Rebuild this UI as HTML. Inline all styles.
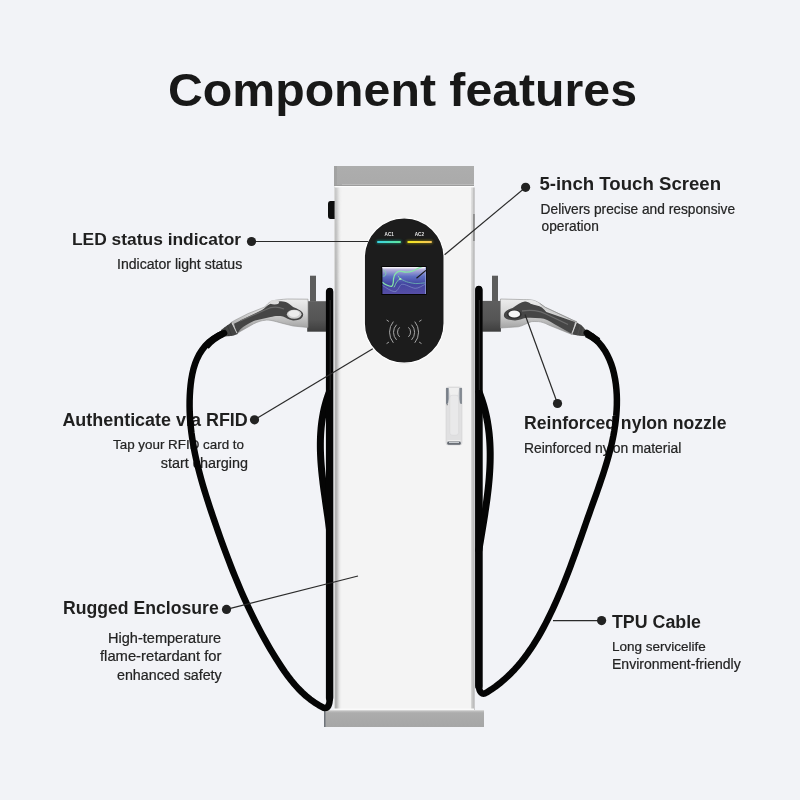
<!DOCTYPE html>
<html><head><meta charset="utf-8"><title>Component features</title>
<style>
html,body{margin:0;padding:0;background:#f2f3f7;}
body{width:800px;height:800px;position:relative;overflow:hidden;font-family:"Liberation Sans", sans-serif;}
svg text{font-family:"Liberation Sans", sans-serif;}
</style></head><body>
<svg width="800" height="800" viewBox="0 0 800 800" style="position:absolute;left:0;top:0;will-change:transform" font-family="'Liberation Sans', sans-serif">
<text x="168.0" y="105.5" font-size="46.5" font-weight="bold" text-anchor="start" fill="#181818" textLength="469.03" lengthAdjust="spacingAndGlyphs">Component features</text>
<text x="72.0" y="245.4" font-size="17.4" font-weight="bold" text-anchor="start" fill="#1f1f1f">LED status indicator</text>
<text x="117.0" y="269.4" font-size="14.09" font-weight="normal" text-anchor="start" fill="#242424" stroke="#242424" stroke-width="0.22">Indicator light status</text>
<text x="539.4" y="190" font-size="18.62" font-weight="bold" text-anchor="start" fill="#1f1f1f">5-inch Touch Screen</text>
<text x="540.6" y="213.5" font-size="13.72" font-weight="normal" text-anchor="start" fill="#242424" stroke="#242424" stroke-width="0.22">Delivers precise and responsive</text>
<text x="541.6" y="231.3" font-size="13.72" font-weight="normal" text-anchor="start" fill="#242424" stroke="#242424" stroke-width="0.22">operation</text>
<text x="62.4" y="426" font-size="17.94" font-weight="bold" text-anchor="start" fill="#1f1f1f">Authenticate via RFID</text>
<text x="113.0" y="449.4" font-size="13.4" font-weight="normal" text-anchor="start" fill="#242424" stroke="#242424" stroke-width="0.22">Tap your RFID card to</text>
<text x="160.8" y="467.5" font-size="14.39" font-weight="normal" text-anchor="start" fill="#242424" stroke="#242424" stroke-width="0.22">start charging</text>
<text x="524.0" y="429.4" font-size="17.63" font-weight="bold" text-anchor="start" fill="#1f1f1f">Reinforced nylon nozzle</text>
<text x="524.0" y="453.1" font-size="13.88" font-weight="normal" text-anchor="start" fill="#242424" stroke="#242424" stroke-width="0.22">Reinforced nylon material</text>
<text x="63.0" y="613.5" font-size="17.64" font-weight="bold" text-anchor="start" fill="#1f1f1f">Rugged Enclosure</text>
<text x="108.0" y="642.5" font-size="14.56" font-weight="normal" text-anchor="start" fill="#242424" stroke="#242424" stroke-width="0.22">High-temperature</text>
<text x="100.0" y="661" font-size="14.77" font-weight="normal" text-anchor="start" fill="#242424" stroke="#242424" stroke-width="0.22">flame-retardant for</text>
<text x="117.0" y="679.8" font-size="14.27" font-weight="normal" text-anchor="start" fill="#242424" stroke="#242424" stroke-width="0.22">enhanced safety</text>
<text x="612.0" y="627.5" font-size="17.81" font-weight="bold" text-anchor="start" fill="#1f1f1f">TPU Cable</text>
<text x="612.0" y="651.3" font-size="13.51" font-weight="normal" text-anchor="start" fill="#242424" stroke="#242424" stroke-width="0.22">Long servicelife</text>
<text x="612.0" y="669.4" font-size="14.04" font-weight="normal" text-anchor="start" fill="#242424" stroke="#242424" stroke-width="0.22">Environment-friendly</text>
</svg>

<svg width="800" height="800" viewBox="0 0 800 800" style="position:absolute;left:0;top:0">
<defs>
  <linearGradient id="cap" x1="0" y1="0" x2="0" y2="1">
    <stop offset="0" stop-color="#adadad"/><stop offset="1" stop-color="#aaaaaa"/>
  </linearGradient>
  <linearGradient id="bodyL" x1="0" y1="0" x2="1" y2="0">
    <stop offset="0" stop-color="#c8c8c8"/><stop offset="0.12" stop-color="#9c9c9c"/><stop offset="0.5" stop-color="#cdcdcd"/><stop offset="1" stop-color="#f4f4f4" stop-opacity="0"/>
  </linearGradient>
  <linearGradient id="base" x1="0" y1="0" x2="0" y2="1">
    <stop offset="0" stop-color="#bdbdbd"/><stop offset="0.2" stop-color="#acacac"/><stop offset="1" stop-color="#a6a6a6"/>
  </linearGradient>
  <linearGradient id="led1" x1="0" y1="0" x2="1" y2="0">
    <stop offset="0" stop-color="#38d3e6"/><stop offset="1" stop-color="#5fe79a"/>
  </linearGradient>
  <linearGradient id="led2" x1="0" y1="0" x2="1" y2="0">
    <stop offset="0" stop-color="#f3ea1c"/><stop offset="1" stop-color="#f6c25a"/>
  </linearGradient>
  <linearGradient id="scr" x1="0" y1="0" x2="0" y2="1">
    <stop offset="0" stop-color="#ece8f4"/><stop offset="0.1" stop-color="#b4b0da"/><stop offset="0.35" stop-color="#5f70c2"/><stop offset="0.62" stop-color="#4346a0"/><stop offset="1" stop-color="#564ea6"/>
  </linearGradient>
  <linearGradient id="silverL" x1="0" y1="0" x2="0" y2="1">
    <stop offset="0" stop-color="#ededed"/><stop offset="0.4" stop-color="#d6d6d6"/><stop offset="0.8" stop-color="#a6a6a6"/><stop offset="1" stop-color="#858585"/>
  </linearGradient>
  <linearGradient id="handle" x1="0" y1="0" x2="1" y2="0">
    <stop offset="0" stop-color="#a9adb3"/><stop offset="0.2" stop-color="#e2e2e2"/><stop offset="0.8" stop-color="#e6e6e6"/><stop offset="1" stop-color="#b8bcc2"/>
  </linearGradient>
  <linearGradient id="fadeG" gradientUnits="userSpaceOnUse" x1="0" y1="186" x2="0" y2="320">
    <stop offset="0" stop-color="#999"/><stop offset="1" stop-color="#fff"/>
  </linearGradient>
  <mask id="fadeTopR" maskUnits="userSpaceOnUse" x="460" y="180" width="30" height="540"><rect x="460" y="180" width="30" height="540" fill="url(#fadeG)"/></mask>
  <mask id="fadeTop" maskUnits="userSpaceOnUse" x="300" y="180" width="60" height="540"><rect x="300" y="180" width="60" height="540" fill="url(#fadeG)"/></mask>
  <clipPath id="scrClip"><rect x="382.4" y="267" width="43.5" height="27"/></clipPath>
  <linearGradient id="holster" x1="0" y1="0" x2="0" y2="1">
    <stop offset="0" stop-color="#5e5e5e"/><stop offset="0.6" stop-color="#555"/><stop offset="1" stop-color="#3e3e3e"/>
  </linearGradient>
  <linearGradient id="hsideL" x1="0" y1="0" x2="1" y2="0"><stop offset="0" stop-color="#4c5560"/><stop offset="1" stop-color="#b8bdc3"/></linearGradient>
  <linearGradient id="hsideR" x1="1" y1="0" x2="0" y2="0"><stop offset="0" stop-color="#5a636e"/><stop offset="1" stop-color="#c0c4c9"/></linearGradient>
  <filter id="glow" x="-50%" y="-200%" width="200%" height="500%"><feGaussianBlur stdDeviation="0.9"/></filter>
</defs>

<!-- pillar -->
<rect x="334" y="166" width="140" height="20" fill="url(#cap)"/>
<rect x="334" y="166" width="3" height="20" fill="#a2a2a2"/>
<rect x="342" y="184" width="132" height="1" fill="#bababa"/>
<rect x="334" y="185" width="140" height="1" fill="#9c9c9c"/>
<rect x="334" y="186" width="140" height="1.5" fill="#fdfdfd"/>
<rect x="334" y="187.5" width="140" height="522.5" fill="#f4f4f4"/>
<rect x="334" y="187.5" width="8" height="522.5" fill="url(#bodyL)" mask="url(#fadeTop)"/>
<rect x="334" y="186.5" width="1.2" height="523.5" fill="#dadada"/>
<rect x="471.3" y="187.5" width="2.3" height="522.5" fill="#c6c6c6" mask="url(#fadeTopR)"/>
<rect x="473.5" y="187.5" width="1" height="522.5" fill="#a2a2a2"/>
<rect x="473.3" y="214" width="1.3" height="27" fill="#7a7a7a"/>
<path d="M334.6,201 L330.5,201 Q328,201 328,204 L328,216 Q328,219 330.5,219 L334.6,219 Z" fill="#0e0e0e"/>
<rect x="324" y="710" width="160" height="17" fill="url(#base)"/>
<rect x="324" y="710" width="1.5" height="17" fill="#6e737a"/>
<rect x="325" y="710" width="159" height="1.2" fill="#d4d4d4"/>
<rect x="334" y="708.5" width="140" height="1.5" fill="#fafafa"/>

<!-- door handle -->
<rect x="446" y="387" width="16" height="58" rx="2.2" fill="#e0e0e1" stroke="#cdcdcf" stroke-width="0.5"/>
<path d="M446.3,388 L448.9,388 L449.3,398 L448,403.5 L446.3,404 Z" fill="url(#hsideL)"/>
<path d="M461.7,388 L459.1,388 L458.7,398 L460,403.5 L461.7,404 Z" fill="url(#hsideR)"/>
<path d="M449,388 L459,388 L457.5,395.5 L450.5,395.5 Z" fill="#efefef"/>
<rect x="449.8" y="395.2" width="8.8" height="40" rx="2.6" fill="#e9e9ea" stroke="#d2d2d4" stroke-width="0.45"/>
<rect x="446.7" y="404.2" width="1" height="1" fill="#555"/>
<rect x="447.6" y="440.3" width="12.8" height="1" fill="#f4f4f4"/>
<rect x="447.2" y="441.6" width="13.6" height="3.2" rx="1.4" fill="#60666e"/>
<rect x="449" y="441.9" width="10" height="1.2" fill="#c8ccd0"/>

<!-- panel -->
<rect x="364.3" y="217.8" width="79.8" height="145.4" rx="39.9" fill="#1c1c1c" stroke="#ffffff" stroke-width="1.2"/>
<text x="389.2" y="236.4" font-size="4.6" font-weight="bold" fill="#e8e8e8" text-anchor="middle">AC1</text>
<text x="419.4" y="236.4" font-size="4.6" font-weight="bold" fill="#e8e8e8" text-anchor="middle">AC2</text>
<rect x="376" y="240" width="26" height="4" rx="2" fill="#1f6e5e" filter="url(#glow)" opacity="0.8"/>
<rect x="406" y="240" width="27" height="4" rx="2" fill="#6e6a18" filter="url(#glow)" opacity="0.8"/>
<rect x="377" y="241" width="24" height="2.1" rx="1.05" fill="url(#led1)"/>
<rect x="407.3" y="241" width="24.7" height="2.1" rx="1.05" fill="url(#led2)"/>
<rect x="381.4" y="266" width="45.2" height="29" fill="#050505"/>
<rect x="382.4" y="267" width="43.5" height="27" fill="url(#scr)"/>
<rect x="382.4" y="267" width="43.5" height="1.2" fill="#f4f2f8"/>
<rect x="425" y="267" width="0.9" height="27" fill="#9aa6e0" opacity="0.8"/>
<g clip-path="url(#scrClip)" fill="none" stroke-linecap="round">
<path d="M382.7,282.3 C384,284 389,286.5 391.5,286.3 C393.5,285.5 393.4,281 393.5,278.9 C394,276 394.5,274.5 395.6,273.5 C397,272 398.5,271.2 399.6,271.1 C402,271 404,272.3 406.4,272.1 C409,272 411,271.5 413.1,270.8 C415.5,269.8 417,268.7 418.5,268.1 L422,266.7" stroke="#86e6a6" stroke-width="1.25"/>
<path d="M398.3,276.2 C399,277.5 400,278.5 400.3,278.9 C399,279.5 398,280.5 396.9,281.6 C396,283 395,285.5 394.2,287" stroke="#7ed8a6" stroke-width="0.9"/>
<path d="M400.3,278.9 C403,280 406,281.8 408.4,282.3 C411,282.8 413.5,283.5 415.8,283.6 C419,283.7 422,283 424.6,282.9" stroke="#74c8b4" stroke-width="0.7"/>
<path d="M382.7,285.6 C386,287.5 391,291.5 394.9,291.7 C398,291.5 399.5,285 401.6,284.3 C405,283.5 411,288 415.1,288.3 C419,288.5 422,285.5 425.3,284.3" stroke="#8c9ad0" stroke-width="0.6"/>
<path d="M383.6,270 C385.5,271 386.5,273 385.6,275 C385,276 384,276.2 383.2,276.2" stroke="#80d8a8" stroke-width="0.8"/>
<ellipse cx="400.3" cy="278.9" rx="1.2" ry="0.9" fill="#a8f0b8" stroke="none"/>
</g>
<!-- RFID -->
<g fill="none" stroke="#a6a6a6" stroke-width="1" stroke-linecap="round">
  <path d="M393.1,321.9 A16.2,16.2 0 0 0 393.1,342.5"/>
  <path d="M396.3,325 A10.5,10.5 0 0 0 396.3,339.6"/>
  <path d="M399.4,327.6 A6,6 0 0 0 399.4,336.6"/>
  <path d="M415,321.9 A16.2,16.2 0 0 1 415,342.5"/>
  <path d="M411.8,325 A10.5,10.5 0 0 1 411.8,339.6"/>
  <path d="M408.7,327.6 A6,6 0 0 1 408.7,336.6"/>
  <path d="M386.9,320.2 L388.6,321.3"/><path d="M421.2,320.2 L419.5,321.3"/>
  <path d="M386.9,343.4 L388.6,342.3"/><path d="M421.2,343.4 L419.5,342.3"/>
</g>

<!-- holsters -->
<rect x="310" y="275.7" width="6" height="26" fill="#5c5c5c"/>
<rect x="307.2" y="301.2" width="20" height="30.5" fill="url(#holster)"/>
<rect x="492" y="275.7" width="6" height="26" fill="#5c5c5c"/>
<rect x="482.2" y="300.9" width="18.7" height="30.8" fill="url(#holster)"/>

<!-- left nozzle -->
<path d="M308,299.2 L287.5,299 C282,299.3 276,300 272,301 C268.5,302.5 266.5,305 265,306.9 L248.1,313.6 L234.6,320.4 L231,322.6 L236.9,333.8 L240.2,331.5 L253.7,323.8 C258,321.6 262,320.5 265,320.3 C269,319.5 274,321 281.9,323.2 L293.1,326 L308,327.5 Z" fill="url(#silverL)" stroke="#8e8e8e" stroke-width="0.6"/>
<path d="M234,323.8 L262,310 C265,308 267,305.5 270,304 C273,302.5 276,301.5 280.7,301.2 C286,301 290,304 293.1,306.9 C298,309 303.2,311 303.2,314.5 C303,318.5 299,320.6 293.1,320.4 C289,320 286,317.5 283,316.4 C278,315.5 274,316 270.6,317 L253.7,320.9 C248,323.5 244,326 240.2,329.4 L236.9,333.9 Z" fill="#454545"/>
<path d="M240,321 L266,309.5 C272,306.5 278,306.5 284,309" fill="none" stroke="#6a6a6a" stroke-width="1.2"/>
<ellipse cx="294.2" cy="314.2" rx="7.3" ry="4.5" fill="#cfcfcf"/>
<ellipse cx="294" cy="313.6" rx="5.6" ry="3.3" fill="#ececec"/>
<ellipse cx="274.5" cy="302.3" rx="4.5" ry="2.2" fill="#dcdcdc"/>
<path d="M221,330 L226.3,325.9 L229.3,324 L231.5,322.3 L237.8,333.9 L233,335.8 L224.8,336.6 L221.5,335.8 Z" fill="#444"/>
<path d="M224.5,327.5 L229,336.2 M227.5,325.2 L231.5,335.5" stroke="#333" stroke-width="0.6"/>
<line x1="231.9" y1="322.8" x2="237" y2="333.2" stroke="#e2e2e2" stroke-width="0.9"/>

<!-- right nozzle -->
<path d="M500.5,299 L523.9,299.6 C527,299.5 531,299.6 534,300.5 C537,301.5 538.5,302.5 539.8,303.4 L545.2,307.3 L572.5,320 L577,322 L572,334.5 L548.6,325 C545,323 541,321.8 538.5,321.6 C535,321.5 533,321.5 531.7,321.6 C527,322.8 523,326 518.2,326.8 L500.5,328 Z" fill="url(#silverL)" stroke="#8e8e8e" stroke-width="0.6"/>
<path d="M541,305.5 L547,309.8 L570,320.5" fill="none" stroke="#cfcfcf" stroke-width="1.4"/>
<path d="M539.8,303.4 L545.2,307.3 L572.5,320 L577,322" fill="none" stroke="#8c8c8c" stroke-width="0.7"/>
<path d="M504.7,312.5 C507,310 510,308.5 512.6,308 C517,305 521,302.3 525,301.6 C527,301.5 529,302.5 530.6,303.8 C535,305.2 539,305.8 541.9,307.5 C544,309 545,310.5 546.4,312 L575,322 L572,334 L554.2,324 C549,320.5 545,318.8 540.7,318.3 C536,317.8 531,317.6 527.2,317.8 C523,318.3 519,320.5 514.9,320.4 C510,320.2 506,319.5 504.7,317.6 C503.5,316 503.7,314 504.7,312.5 Z" fill="#464646"/>
<path d="M522,311 C530,309.5 540,310.5 546,314 L568,324.5" fill="none" stroke="#6c6c6c" stroke-width="1.3"/>
<ellipse cx="514.3" cy="314.2" rx="7.3" ry="4.5" fill="#2e2e2e"/>
<ellipse cx="514.3" cy="314" rx="5.8" ry="3.6" fill="#f6f6f6"/>
<path d="M528,300.3 C531,299.5 535,300.5 538.5,303 L533,303.5 Z" fill="#e8e8e8"/>
<path d="M576.8,322.4 L581.5,325.3 L585.3,329.6 L587.3,331.3 L586.3,336.3 L579.5,335.8 L572.3,334.5 Z" fill="#444"/>
<path d="M580.5,324.8 L577.5,335.3 M583.5,327.6 L581.5,335.9" stroke="#555" stroke-width="0.6"/>
<line x1="576.3" y1="322.5" x2="571.8" y2="333.7" stroke="#e2e2e2" stroke-width="0.9"/>

<!-- cables -->
<g fill="none" stroke="#050505" stroke-width="6.5" stroke-linecap="round" stroke-linejoin="round">
  <path d="M223.96,333.19 L218.36,335.72 L213.42,338.69 L209.08,342.08 L205.30,345.83 L202.06,349.91 L199.30,354.29 L196.98,358.93 L195.07,363.78 L193.52,368.81 L192.29,373.99 L191.34,379.27 L190.64,384.62 L190.14,390.00 L189.80,395.38 L189.62,400.74 L189.59,406.10 L189.69,411.45 L189.94,416.79 L190.32,422.12 L190.82,427.44 L191.44,432.75 L192.18,438.05 L193.02,443.34 L193.96,448.62 L195.00,453.89 L196.13,459.15 L197.35,464.40 L198.64,469.64 L200.00,474.87 L201.43,480.09 L202.93,485.29 L204.48,490.49 L206.07,495.67 L207.71,500.85 L209.39,506.01 L211.10,511.15 L212.83,516.29 L214.59,521.42 L216.36,526.53 L218.14,531.63 L219.94,536.72 L221.76,541.79 L223.60,546.85 L225.46,551.90 L227.35,556.93 L229.26,561.95 L231.20,566.95 L233.17,571.93 L235.17,576.89 L237.20,581.84 L239.27,586.77 L241.38,591.69 L243.52,596.58 L245.71,601.45 L247.94,606.31 L250.22,611.14 L252.54,615.96 L254.91,620.75 L257.34,625.52 L259.81,630.27 L262.34,634.99 L264.93,639.69 L267.57,644.37 L270.28,649.02 L273.05,653.65 L275.88,658.25 L278.78,662.83 L281.76,667.37 L284.82,671.83 L288.00,676.22 L291.30,680.49 L294.73,684.62 L298.32,688.60 L302.07,692.40 L306.01,695.99 L310.14,699.35 L314.48,702.47 L319.05,705.31 L323.86,707.85 C328,709 329.8,705 329.8,697 L329.8,291"/>
  <path d="M586.84,332.89 L591.28,335.87 L595.28,339.17 L598.87,342.76 L602.06,346.62 L604.88,350.73 L607.35,355.05 L609.48,359.57 L611.30,364.25 L612.83,369.07 L614.08,374.01 L615.08,379.04 L615.85,384.13 L616.40,389.27 L616.75,394.45 L616.89,399.65 L616.85,404.86 L616.64,410.06 L616.27,415.25 L615.75,420.41 L615.10,425.53 L614.31,430.61 L613.41,435.65 L612.39,440.66 L611.27,445.63 L610.05,450.58 L608.75,455.51 L607.37,460.41 L605.91,465.29 L604.39,470.15 L602.82,475.00 L601.20,479.83 L599.55,484.66 L597.86,489.48 L596.16,494.30 L594.44,499.12 L592.71,503.94 L590.99,508.76 L589.28,513.60 L587.57,518.44 L585.87,523.28 L584.18,528.12 L582.48,532.97 L580.78,537.82 L579.07,542.66 L577.34,547.50 L575.61,552.33 L573.86,557.16 L572.09,561.98 L570.29,566.79 L568.47,571.59 L566.62,576.37 L564.74,581.14 L562.82,585.89 L560.87,590.62 L558.87,595.34 L556.83,600.03 L554.74,604.69 L552.59,609.34 L550.40,613.95 L548.15,618.54 L545.83,623.10 L543.45,627.62 L541.00,632.10 L538.47,636.54 L535.86,640.91 L533.15,645.23 L530.35,649.47 L527.44,653.64 L524.42,657.73 L521.29,661.72 L518.03,665.62 L514.63,669.41 L511.11,673.09 L507.43,676.65 L503.61,680.08 L499.64,683.39 L495.49,686.55 L491.18,689.56 L486.70,692.42 C482.5,695.5 478.8,693 478.8,684 L478.8,289"/>
  <path d="M329.42,391.92 L328.78,393.60 L328.16,395.28 L327.57,396.97 L327.01,398.67 L326.47,400.37 L325.96,402.07 L325.48,403.77 L325.02,405.48 L324.58,407.19 L324.17,408.91 L323.79,410.63 L323.42,412.35 L323.08,414.07 L322.76,415.80 L322.47,417.53 L322.19,419.27 L321.94,421.00 L321.70,422.74 L321.49,424.48 L321.30,426.23 L321.12,427.97 L320.97,429.72 L320.83,431.47 L320.71,433.22 L320.61,434.98 L320.53,436.74 L320.46,438.49 L320.41,440.25 L320.38,442.01 L320.36,443.78 L320.36,445.54 L320.37,447.31 L320.39,449.07 L320.43,450.84 L320.49,452.61 L320.55,454.38 L320.63,456.15 L320.72,457.92 L320.82,459.69 L320.93,461.46 L321.06,463.24 L321.19,465.01 L321.34,466.78 L321.49,468.55 L321.65,470.33 L321.83,472.10 L322.01,473.87 L322.19,475.65 L322.39,477.42 L322.59,479.19 L322.80,480.96 L323.01,482.73 L323.23,484.50 L323.46,486.27 L323.69,488.04 L323.92,489.81 L324.16,491.57 L324.40,493.34 L324.65,495.10 L324.90,496.86 L325.15,498.62 L325.40,500.38 L325.65,502.14 L325.91,503.90 L326.16,505.65 L326.42,507.40 L326.67,509.15 L326.92,510.90 L327.18,512.64 L327.43,514.39 L327.67,516.13 L327.92,517.87 L328.16,519.60 L328.40,521.33 L328.64,523.06 L328.87,524.79 L329.10,526.51 L329.32,528.23 L329.54,529.95" stroke-width="7"/>
  <path d="M329.6,292 L329.6,698" stroke-width="7.4"/>
  <path d="M223,333.6 C216,337 210,341.5 206,346.5" stroke-width="7" stroke-linecap="butt"/>
  <path d="M586.5,333.8 C591,336 595,338.5 598,341" stroke-width="7" stroke-linecap="butt"/>
  <path d="M478.9,290 L478.9,686" stroke-width="7.6"/>
  <path d="M479.02,391.90 L479.78,393.83 L480.50,395.76 L481.20,397.69 L481.87,399.63 L482.51,401.58 L483.12,403.53 L483.70,405.48 L484.25,407.44 L484.78,409.40 L485.27,411.36 L485.74,413.33 L486.19,415.30 L486.61,417.28 L487.00,419.26 L487.37,421.24 L487.71,423.22 L488.03,425.21 L488.32,427.21 L488.59,429.20 L488.84,431.20 L489.07,433.20 L489.27,435.20 L489.45,437.21 L489.61,439.21 L489.75,441.22 L489.87,443.24 L489.97,445.25 L490.05,447.27 L490.12,449.28 L490.16,451.30 L490.19,453.32 L490.19,455.35 L490.18,457.37 L490.16,459.40 L490.12,461.42 L490.06,463.45 L489.98,465.48 L489.90,467.51 L489.79,469.53 L489.68,471.56 L489.55,473.59 L489.40,475.63 L489.25,477.66 L489.08,479.69 L488.90,481.72 L488.71,483.75 L488.50,485.78 L488.29,487.81 L488.07,489.84 L487.83,491.87 L487.59,493.90 L487.34,495.92 L487.08,497.95 L486.82,499.97 L486.54,502.00 L486.26,504.02 L485.97,506.04 L485.68,508.06 L485.38,510.08 L485.08,512.10 L484.77,514.11 L484.46,516.13 L484.14,518.14 L483.82,520.15 L483.50,522.15 L483.17,524.16 L482.84,526.16 L482.51,528.16 L482.18,530.15 L481.85,532.15 L481.52,534.14 L481.19,536.12 L480.86,538.11 L480.53,540.09 L480.20,542.07 L479.88,544.04 L479.55,546.01 L479.23,547.98 L478.92,549.94" stroke-width="7"/>
</g>

<g stroke="#3c3c3c" stroke-width="0.9" fill="none" opacity="0.8">
  <path d="M330.2,300 L330.2,390"/>
  <path d="M479.3,300 L479.3,390"/>
</g>
<!-- leaders -->
<g stroke="#2a2a2a" stroke-width="1.2" fill="none">
  <line x1="251.5" y1="241.5" x2="368" y2="241.5"/>
  <line x1="525.6" y1="187.3" x2="444.6" y2="254.8"/>
  <line x1="425.9" y1="270.4" x2="416.5" y2="278.2" stroke="#1a1a1a"/>
  <line x1="254.5" y1="419.8" x2="372.8" y2="348.8"/>
  <line x1="557.5" y1="403.5" x2="525" y2="314.5"/>
  <line x1="226.5" y1="609.4" x2="358" y2="576"/>
  <line x1="601.6" y1="620.6" x2="553" y2="620.6"/>
</g>
<g fill="#222">
  <circle cx="251.5" cy="241.5" r="4.6"/>
  <circle cx="525.6" cy="187.3" r="4.6"/>
  <circle cx="254.5" cy="419.8" r="4.6"/>
  <circle cx="557.5" cy="403.5" r="4.6"/>
  <circle cx="226.5" cy="609.4" r="4.6"/>
  <circle cx="601.6" cy="620.6" r="4.6"/>
</g>
</svg>

</body></html>
